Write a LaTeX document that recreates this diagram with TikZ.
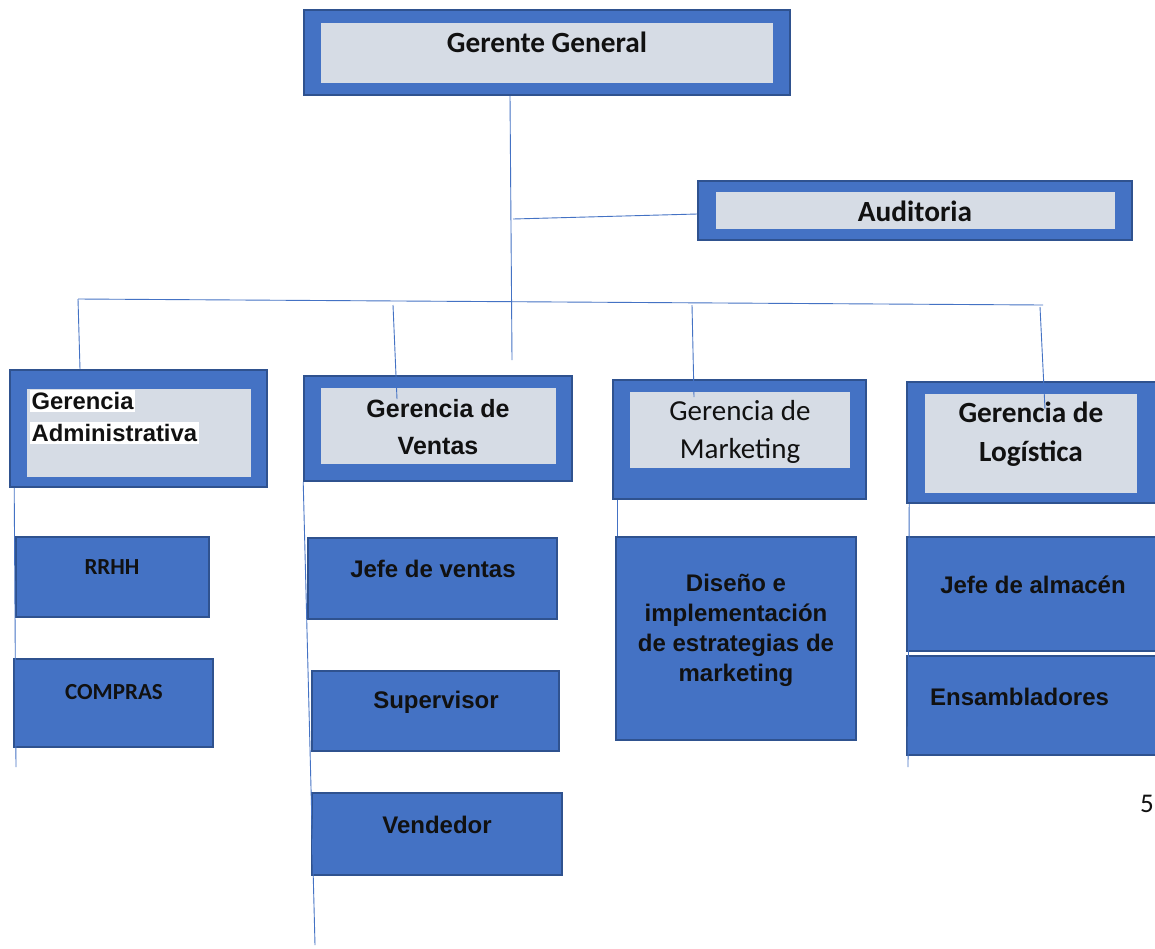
\documentclass[tikz,border=0pt]{standalone}
\usepackage{fontspec}
\newfontfamily\calibri{Carlito}
\newfontfamily\arial{Liberation Sans}
\definecolor{boxblue}{HTML}{4472C4}
\definecolor{boxedge}{HTML}{2F528F}
\definecolor{boxgrey}{HTML}{D6DCE5}
\definecolor{ink}{HTML}{111111}
\begin{document}
\begin{tikzpicture}[x=1pt,y=-1pt,
    bluebox/.style={draw=boxedge,line width=1.6pt,fill=boxblue,inner sep=0pt},
    greybox/.style={fill=boxgrey,inner sep=0pt},
    link/.style={draw=boxblue,line width=0.9pt},
    calb/.style={text=ink,inner sep=0pt,align=center,font=\calibri\bfseries\fontsize{29.3}{38}\selectfont},
    arib/.style={text=ink,inner sep=0pt,align=center,font=\arial\bfseries\fontsize{24}{30}\selectfont}]
    \clip (0,0) rectangle (1155,948);
    \fill[white] (0,0) rectangle (1155,948);
    % top level
    \node[bluebox,minimum width=486,minimum height=85] (gg) at (547,52.5) {};
    \node[greybox,minimum width=452,minimum height=60] (ggin) at (547,53) {};
    \node[calb] (ggtxt) at (547,42) {Gerente General};
    \node[bluebox,minimum width=434,minimum height=59] (aud) at (915,210.5) {};
    \node[greybox,minimum width=399,minimum height=37] (audin) at (915.5,210.5) {};
    \node[calb] (audtxt) at (915,211) {Auditoria};
    % gerencias
    \node[bluebox,minimum width=257,minimum height=117] (adm) at (138.5,428.5) {};
    \node[greybox,minimum width=224,minimum height=88] (admin) at (139,433) {};
    \node[fill=white,text=ink,inner xsep=1.5pt,inner ysep=2pt,anchor=west,font=\arial\bfseries\fontsize{23.8}{28}\selectfont] (admtxta) at (30,401) {Gerencia};
    \node[fill=white,text=ink,inner xsep=1.5pt,inner ysep=2pt,anchor=west,font=\arial\bfseries\fontsize{23.8}{28}\selectfont] (admtxtb) at (30,433) {Administrativa};
    \node[bluebox,minimum width=268,minimum height=105] (ven) at (438,428.5) {};
    \node[greybox,minimum width=235,minimum height=76] (venin) at (438.5,426) {};
    \node[arib,font=\arial\bfseries\fontsize{25}{37}\selectfont] (ventxt) at (438,427) {Gerencia de\\Ventas};
    \node[bluebox,minimum width=253,minimum height=119] (mkt) at (739.5,439.5) {};
    \node[greybox,minimum width=220,minimum height=76] (mktin) at (740,430) {};
    \node[calb,font=\calibri\fontsize{29}{38}\selectfont] (mkttxt) at (740,432) {Gerencia de\\Marketing};
    \node[bluebox,minimum width=253,minimum height=121] (log) at (1033.5,442.5) {};
    \node[greybox,minimum width=212,minimum height=99] (login) at (1031,443.5) {};
    \node[calb,font=\calibri\bfseries\fontsize{29.3}{39}\selectfont] (logtxt) at (1031,434) {Gerencia de\\Logística};
    % puestos
    \node[bluebox,minimum width=193,minimum height=80] (rrhh) at (112.5,577) {};
    \node[calb,font=\calibri\bfseries\fontsize{23}{28}\selectfont] (rrhhtxt) at (112,567) {RRHH};
    \node[bluebox,minimum width=199,minimum height=88] (comp) at (113.5,703) {};
    \node[calb,font=\calibri\bfseries\fontsize{23}{28}\selectfont] (comptxt) at (114,692) {COMPRAS};
    \node[bluebox,minimum width=249,minimum height=81] (jv) at (432.5,578.5) {};
    \node[arib] (jvtxt) at (433,569) {Jefe de ventas};
    \node[bluebox,minimum width=247,minimum height=80] (sup) at (435.5,711) {};
    \node[arib] (suptxt) at (436,702) {Supervisor};
    \node[bluebox,minimum width=250,minimum height=82] (vend) at (437,834) {};
    \node[arib] (vendtxt) at (437,825) {Vendedor};
    \node[bluebox,minimum width=240,minimum height=203] (dis) at (736,638.5) {};
    \node[arib] (distxt) at (736,630) {Diseño e\\implementación\\de estrategias de\\marketing};
    \node[bluebox,minimum width=253,minimum height=114] (ja) at (1033.5,594) {};
    \node[arib] (jatxt) at (1033,585) {Jefe de almacén};
    \node[bluebox,minimum width=253,minimum height=99] (ens) at (1033.5,705.5) {};
    \node[arib,anchor=west] (enstxt) at (930,697) {Ensambladores};
    \node[text=ink,inner sep=0pt,font=\calibri\fontsize{27}{32}\selectfont] (pg) at (1147,804) {5};
    % conectores
    \coordinate (ggend) at (512,360);
    \coordinate (audj) at (513,219);
    \coordinate (hl) at (78,299);
    \coordinate (hr) at (1043,305);
    \coordinate (v2) at (393,305);
    \coordinate (v3) at (692,305);
    \coordinate (v4) at (1040,307);
    \coordinate (admend) at (16,767);
    \coordinate (venend) at (315,945);
    \coordinate (logend) at (908,767);
    \draw[link] ([xshift=-37pt]gg.south) -- (ggend);
    \draw[link] (audj) -- ([yshift=-3.5pt]aud.west);
    \draw[link] (hl) -- (hr);
    \draw[link] (hl) -- ([xshift=-58.5pt]adm.north);
    \draw[link] (v2) -- ([xshift=-41pt,yshift=-24pt]ven.north);
    \draw[link] (v3) -- ([xshift=-45.5pt,yshift=-18pt]mkt.north);
    \draw[link] (v4) -- ([xshift=11.5pt,yshift=-28pt]log.north);
    \draw[link] ([xshift=5pt]adm.south west) -- (admend);
    \draw[link] (ven.south west) -- (venend);
    \draw[link] ([xshift=5pt]mkt.south west) -- ([xshift=2pt]dis.north west);
    \draw[link] ([xshift=3pt]log.south west) -- (logend);
\end{tikzpicture}
\end{document}
